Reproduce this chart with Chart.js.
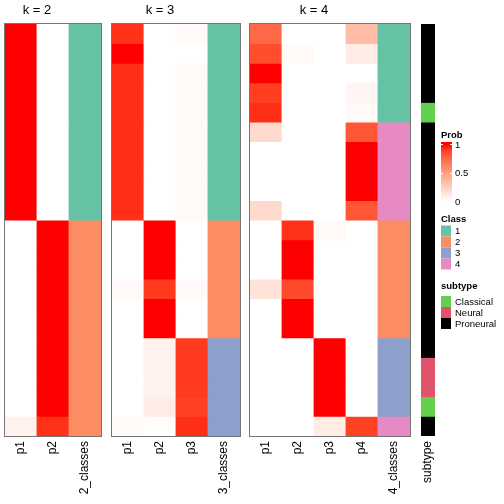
<!DOCTYPE html>
<html>
<head>
<meta charset="utf-8">
<script src="https://cdn.jsdelivr.net/npm/chart.js@4"></script>
<style>
body { margin: 0; background: #fff; }
#wrap { position: relative; width: 504px; height: 504px; }
canvas { position: absolute; top: 0; }
</style>
</head>
<body>
<div id="wrap">
<canvas id="k2" width="106" height="504" style="left:0px"></canvas>
<canvas id="k3" width="138" height="504" style="left:107px"></canvas>
<canvas id="k4" width="170" height="504" style="left:245px"></canvas>
<canvas id="sub" width="88" height="504" style="left:416px"></canvas>
</div>
<script>
// membership probabilities, one value per sample (rows top to bottom)
const k2P1 = [1,1,1,1,1,1,1,1,1,1, 0,0,0,0,0,0,0,0,0,0, 0.07];
const k2P2 = [0,0,0,0,0,0,0,0,0,0, 1,1,1,1,1,1,1,1,1,1, 0.93];
const k2Class = [1,1,1,1,1,1,1,1,1,1, 2,2,2,2,2,2,2,2,2,2,2];

const k3P1 = [0.93,1,0.94,0.94,0.94,0.94,0.94,0.94,0.94,0.94, 0,0,0,0.03,0,0, 0,0,0,0,0.03];
const k3P2 = [0,0,0,0,0,0,0,0,0,0, 1,1,1,0.91,1,1, 0.07,0.07,0.07,0.1,0.01];
const k3P3 = [0.03,0,0.03,0.03,0.03,0.03,0.03,0.03,0.03,0.03, 0,0,0,0.03,0,0, 0.91,0.91,0.91,0.89,0.94];
const k3Class = [1,1,1,1,1,1,1,1,1,1, 2,2,2,2,2,2, 3,3,3,3,3];

const k4P1 = [0.75,0.85,1,0.9,0.94, 0.2,0,0,0,0.2, 0,0,0,0.15,0,0, 0,0,0,0,0];
const k4P2 = [0,0.03,0,0,0, 0,0,0,0,0, 0.93,1,1,0.86,1,1, 0,0,0,0,0];
const k4P3 = [0,0,0,0,0, 0,0,0,0,0, 0.03,0,0,0,0,0, 1,1,1,1, 0.1];
const k4P4 = [0.35,0.1,0,0.05,0.03, 0.82,1,1,1,0.82, 0,0,0,0,0,0, 0,0,0,0, 0.89];
const k4Class = [1,1,1,1,1, 4,4,4,4,4, 2,2,2,2,2,2, 3,3,3,3, 4];

const subtype = ['Proneural','Proneural','Proneural','Proneural','Classical',
  'Proneural','Proneural','Proneural','Proneural','Proneural','Proneural',
  'Proneural','Proneural','Proneural','Proneural','Proneural','Proneural',
  'Neural','Neural','Classical','Proneural'];

const classNames = ['1', '2', '3', '4'];
const subtypeNames = ['Classical', 'Neural', 'Proneural'];
const probTicks = [0, 0.5, 1];

const classColors = { 1: '#66C2A5', 2: '#FC8D62', 3: '#8DA0CB', 4: '#E78AC3' };
const subtypeColors = { Classical: '#61D04F', Neural: '#DF536B', Proneural: '#000000' };

const nRows = subtype.length;
const FONT = "'Liberation Sans', Arial, Helvetica, sans-serif";
Chart.defaults.font.family = FONT;
Chart.defaults.color = '#000';

// white -> red, interpolated in LAB space
function probColor(v) {
  v = Math.max(0, Math.min(1, v));
  const L = 100 + (53.24 - 100) * v, A = 80.09 * v, B = 67.2 * v;
  const fy = (L + 16) / 116, fx = fy + A / 500, fz = fy - B / 200;
  const finv = t => t > 0.206893 ? t * t * t : (t - 16 / 116) / 7.787;
  const X = 0.95047 * finv(fx), Y = finv(fy), Z = 1.08883 * finv(fz);
  const lin = [
    3.2406 * X - 1.5372 * Y - 0.4986 * Z,
    -0.9689 * X + 1.8758 * Y + 0.0415 * Z,
    0.0557 * X - 0.2040 * Y + 1.0570 * Z
  ];
  const rgb = lin.map(c => {
    c = Math.max(0, Math.min(1, c));
    c = c <= 0.0031308 ? 12.92 * c : 1.055 * Math.pow(c, 1 / 2.4) - 0.055;
    return Math.round(c * 255);
  });
  return `rgb(${rgb[0]},${rgb[1]},${rgb[2]})`;
}

function heatmap(id, title, labels, cols, nProb, frame, extraPlugins) {
  const datasets = [];
  for (let r = 0; r < nRows; r++) {
    datasets.push({
      data: labels.map(() => 1),
      backgroundColor: cols.map(c => c[r]),
      borderWidth: 0,
      inflateAmount: 0.4,
      barPercentage: 1,
      categoryPercentage: 1
    });
  }
  const plugins = [{
    id: 'frameTitle',
    afterDatasetsDraw(chart) {
      const ctx = chart.ctx, a = chart.chartArea;
      ctx.save();
      if (frame) {
        ctx.strokeStyle = '#777';
        ctx.lineWidth = 1;
        ctx.strokeRect(Math.round(a.left) - 0.5, Math.round(a.top) - 0.5,
          Math.round(a.right - a.left) + 1, Math.round(a.bottom - a.top) + 1);
      }
      if (title) {
        const xs = chart.scales.x;
        const cx = (xs.getPixelForValue(0) + xs.getPixelForValue(nProb - 1)) / 2;
        ctx.fillStyle = '#000';
        ctx.font = '13px ' + FONT;
        ctx.textAlign = 'center';
        ctx.textBaseline = 'alphabetic';
        ctx.fillText(title, cx, 13.5);
      }
      ctx.restore();
    }
  }].concat(extraPlugins || []);

  return new Chart(document.getElementById(id), {
    type: 'bar',
    data: { labels: labels, datasets: datasets },
    options: {
      responsive: false,
      animation: false,
      layout: { padding: { top: 24, left: 5, right: id === 'sub' ? 69 : 5, bottom: 0 } },
      plugins: { legend: { display: false }, tooltip: { enabled: false }, title: { display: false } },
      scales: {
        x: {
          stacked: true,
          grid: { display: false },
          border: { display: false },
          ticks: { minRotation: 90, maxRotation: 90, padding: -3, font: { size: 12 }, color: '#000' },
          afterFit(s) { s.height = 68; s.paddingLeft = 0; s.paddingRight = 0; }
        },
        y: { stacked: true, reverse: true, min: 0, max: nRows, display: false }
      }
    },
    plugins: plugins
  });
}

const legendPlugin = {
  id: 'sideLegend',
  afterDraw(chart) {
    const ctx = chart.ctx;
    const x0 = chart.chartArea.right + 6;
    const titleFont = 'bold 9.5px ' + FONT, labelFont = '9.5px ' + FONT;
    ctx.save();
    ctx.fillStyle = '#000';
    ctx.textAlign = 'left';

    // Prob colour bar
    ctx.font = titleFont;
    ctx.textBaseline = 'alphabetic';
    ctx.fillText('Prob', x0, 137.5);
    const yTop = 144.3, yBot = 201;
    const g = ctx.createLinearGradient(0, yBot, 0, yTop);
    for (let i = 0; i <= 10; i++) g.addColorStop(i / 10, probColor(i / 10));
    ctx.fillStyle = g;
    ctx.fillRect(x0, 142, 11, yBot - 142);
    ctx.font = labelFont;
    ctx.textBaseline = 'middle';
    probTicks.forEach(t => {
      const y = yBot - (yBot - yTop) * t;
      ctx.strokeStyle = '#fff';
      ctx.lineWidth = 1;
      ctx.beginPath();
      ctx.moveTo(x0, Math.round(y) + 0.5); ctx.lineTo(x0 + 2, Math.round(y) + 0.5);
      ctx.moveTo(x0 + 9, Math.round(y) + 0.5); ctx.lineTo(x0 + 11, Math.round(y) + 0.5);
      ctx.stroke();
      ctx.fillStyle = '#000';
      ctx.fillText(String(t), x0 + 14, y + 1);
    });

    // Class legend
    ctx.font = titleFont;
    ctx.textBaseline = 'alphabetic';
    ctx.fillText('Class', x0, 222);
    ctx.font = labelFont;
    ctx.textBaseline = 'middle';
    classNames.forEach((name, i) => {
      const y = 225.5 + 11 * i;
      ctx.fillStyle = classColors[name];
      ctx.fillRect(x0, y, 10, 11);
      ctx.fillStyle = '#000';
      ctx.fillText(name, x0 + 14, y + 6);
    });

    // subtype legend
    ctx.font = titleFont;
    ctx.textBaseline = 'alphabetic';
    ctx.fillText('subtype', x0, 289);
    ctx.font = labelFont;
    ctx.textBaseline = 'middle';
    subtypeNames.forEach((name, i) => {
      const y = 296 + 11 * i;
      ctx.fillStyle = subtypeColors[name];
      ctx.fillRect(x0, y, 10, 11);
      ctx.fillStyle = '#000';
      ctx.fillText(name, x0 + 14, y + 6);
    });
    ctx.restore();
  }
};

const toCls = arr => arr.map(c => classColors[c]);
const toProb = arr => arr.map(probColor);

heatmap('k2', 'k = 2', ['p1', 'p2', '2_classes'],
  [toProb(k2P1), toProb(k2P2), toCls(k2Class)], 2, true);
heatmap('k3', 'k = 3', ['p1', 'p2', 'p3', '3_classes'],
  [toProb(k3P1), toProb(k3P2), toProb(k3P3), toCls(k3Class)], 3, true);
heatmap('k4', 'k = 4', ['p1', 'p2', 'p3', 'p4', '4_classes'],
  [toProb(k4P1), toProb(k4P2), toProb(k4P3), toProb(k4P4), toCls(k4Class)], 4, true);
heatmap('sub', null, ['subtype'],
  [subtype.map(s => subtypeColors[s])], 1, false, [legendPlugin]);
</script>
</body>
</html>
